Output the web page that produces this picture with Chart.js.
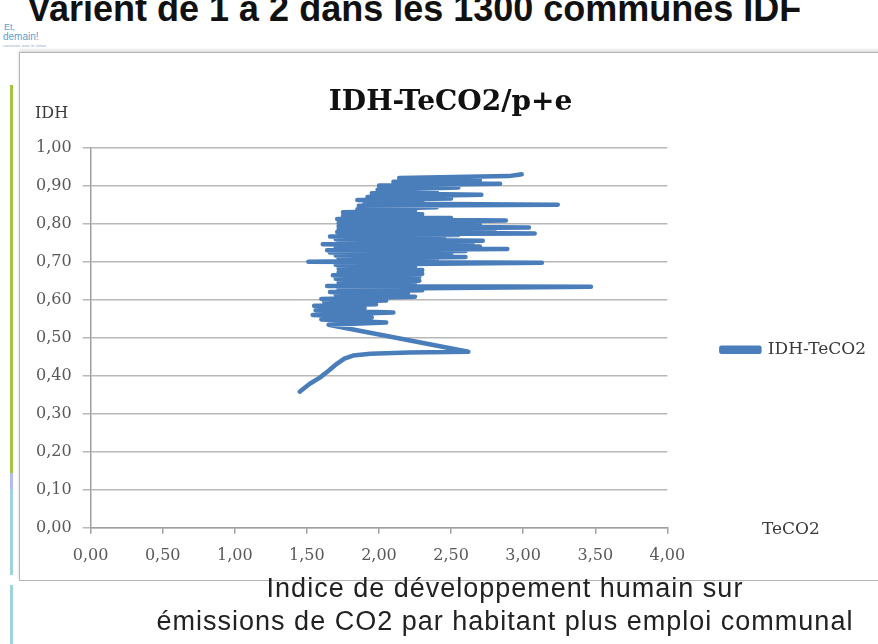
<!DOCTYPE html>
<html><head><meta charset="utf-8">
<script src="https://cdn.jsdelivr.net/npm/chart.js@4.4.1/dist/chart.umd.min.js"></script>
<style>
html,body{margin:0;padding:0;background:#fff;width:878px;height:644px;overflow:hidden;position:relative;font-family:"Liberation Sans",Arial,sans-serif}
#headline{position:absolute;left:27px;top:-12px;font:bold 36px "Liberation Sans",Arial,sans-serif;color:#111;white-space:nowrap}
#logo1{position:absolute;left:4px;top:22px;font:9px "Liberation Sans",sans-serif;color:#5aa0d0}
#logo2{position:absolute;left:3px;top:31px;font:10px "Liberation Sans",sans-serif;color:#5aa0d0}
#logo3{position:absolute;left:3px;top:43px;font:4px "Liberation Sans",sans-serif;color:#9ac;}
#frame{position:absolute;left:19px;top:52px;width:880px;height:527px;border:1px solid #b5b5b5;box-shadow:0 -2px 3px #ddd}
#wrap{position:absolute;left:20px;top:53px;width:858px;height:526px}
.bar{position:absolute;left:10px;width:3px}
#ylab{position:absolute;left:35px;top:103px;font:16px "DejaVu Serif",serif;color:#3a3a3a}
#xlab{position:absolute;left:762px;top:518px;font:17px "DejaVu Serif",serif;color:#3a3a3a}
#cap{position:absolute;left:0;width:1010px;top:572px;text-align:center;font:27px "Liberation Sans",Arial,sans-serif;letter-spacing:1px;color:#222;line-height:33px}
</style></head>
<body>
<div id="headline">Varient de 1 à 2 dans les 1300 communes IDF</div>
<div id="logo1">Et,</div>
<div id="logo2">demain!</div>
<div id="logo3">construire avec le climat</div>
<div class="bar" style="top:85px;height:388px;background:#a3c43e"></div>
<div class="bar" style="top:473px;height:17px;background:#b4bdf0"></div>
<div class="bar" style="top:490px;height:85px;background:#9fd3dc"></div>
<div class="bar" style="top:585px;height:59px;background:#9fd3dc"></div>
<div id="frame"></div>
<div id="wrap"><canvas id="c" width="858" height="526"></canvas></div>
<div id="ylab">IDH</div>
<div id="xlab">TeCO2</div>
<div id="cap">Indice de développement humain sur<br>émissions de CO2 par habitant plus emploi communal</div>
<script>
const chartTitle = "IDH-TeCO2/p+e";
const seriesName = "IDH-TeCO2";
const xTicks = [0, 0.5, 1, 1.5, 2, 2.5, 3, 3.5, 4];
const yTicks = [0, 0.1, 0.2, 0.3, 0.4, 0.5, 0.6, 0.7, 0.8, 0.9, 1.0];
// TeCO2 per inhabitant + job (x) and IDH (y), in drawing order
const teco2 = [
 1.45,1.52,1.59,1.65,1.71,1.76,1.82,1.94,2.21,2.62,
 1.65,2.05,1.60,1.95,1.54,2.10,1.56,1.90,1.55,1.98,1.62,2.05,1.60,2.25,1.70,2.20,1.66,2.30,1.72,3.47,
 1.64,2.25,1.72,2.28,1.70,2.28,1.68,2.30,1.72,2.30,1.72,2.25,1.70,3.13,1.51,2.40,1.72,2.60,1.70,2.50,
 1.66,2.60,1.64,2.89,1.70,2.70,1.61,2.65,1.72,2.72,1.70,2.45,1.66,2.55,1.72,3.08,1.71,2.80,1.72,3.04,
 1.72,2.70,1.72,2.88,1.71,2.50,1.75,2.30,1.75,2.25,1.85,2.40,1.86,3.24,1.90,2.30,1.85,2.50,1.92,2.71,
 1.95,2.40,1.99,2.55,2.00,2.84,2.10,2.70,2.14,2.90,2.99
];
const idh = [
 0.358,0.379,0.395,0.413,0.432,0.445,0.453,0.458,0.461,0.463,
 0.534,0.540,0.548,0.553,0.560,0.566,0.572,0.578,0.584,0.588,0.594,0.598,0.602,0.608,0.612,0.616,0.620,0.625,0.628,0.634,
 0.636,0.640,0.645,0.650,0.655,0.660,0.664,0.668,0.672,0.678,0.682,0.688,0.692,0.697,0.700,0.704,0.708,0.712,0.716,0.720,
 0.724,0.728,0.730,0.733,0.737,0.740,0.746,0.750,0.752,0.755,0.759,0.762,0.766,0.770,0.772,0.774,0.778,0.782,0.786,0.790,
 0.794,0.798,0.802,0.808,0.812,0.815,0.820,0.825,0.830,0.834,0.838,0.843,0.847,0.850,0.853,0.858,0.862,0.866,0.870,0.876,
 0.880,0.884,0.889,0.895,0.900,0.905,0.910,0.915,0.920,0.925,0.930
];
const points = teco2.map((x, i) => ({x: x, y: idh[i]}));
const fmt = v => Number(v).toFixed(2).replace('.', ',');
const tickFont = {family: "DejaVu Serif", size: 16};
new Chart(document.getElementById('c'), {
  type: 'scatter',
  data: {datasets: [{
    label: seriesName, data: points, showLine: true, pointRadius: 0,
    borderColor: '#4a7ebb', backgroundColor: '#4a7ebb', borderWidth: 4.5, tension: 0,
    borderJoinStyle: 'round', borderCapStyle: 'round'
  }]},
  options: {
    responsive: false, animation: false,
    layout: {padding: {left: 5, right: 2, top: 0, bottom: 2}},
    plugins: {
      title: {display: true, text: chartTitle, color: '#111',
        font: {family: "DejaVu Serif", size: 28, weight: 'bold'}, padding: {top: 33, bottom: 28}},
      legend: {display: true, position: 'right', fullSize: false,
        title: {display: true, text: ' ', font: {size: 10}, padding: 6},
        labels: {boxWidth: 38, boxHeight: 4, color: '#3a3a3a', padding: 54,
          font: {family: "DejaVu Serif", size: 17}}},
      tooltip: {enabled: false}
    },
    scales: {
      x: {type: 'linear', min: 0, max: 4,
        afterBuildTicks: s => { s.ticks = xTicks.map(v => ({value: v})); },
        ticks: {callback: fmt, color: '#595959', font: tickFont, padding: 12, maxRotation: 0},
        grid: {drawOnChartArea: false, drawTicks: true, tickLength: 6, color: '#a0a0a0', lineWidth: 1.5},
        border: {color: '#a0a0a0', width: 1.5}},
      y: {type: 'linear', min: 0, max: 1,
        afterBuildTicks: s => { s.ticks = yTicks.map(v => ({value: v})); },
        ticks: {callback: fmt, color: '#595959', font: tickFont, padding: 11},
        grid: {color: '#b8b8b8', lineWidth: 1.5, tickLength: 8},
        border: {color: '#a0a0a0', width: 1.5}}
    }
  }
});
</script>
</body></html>
